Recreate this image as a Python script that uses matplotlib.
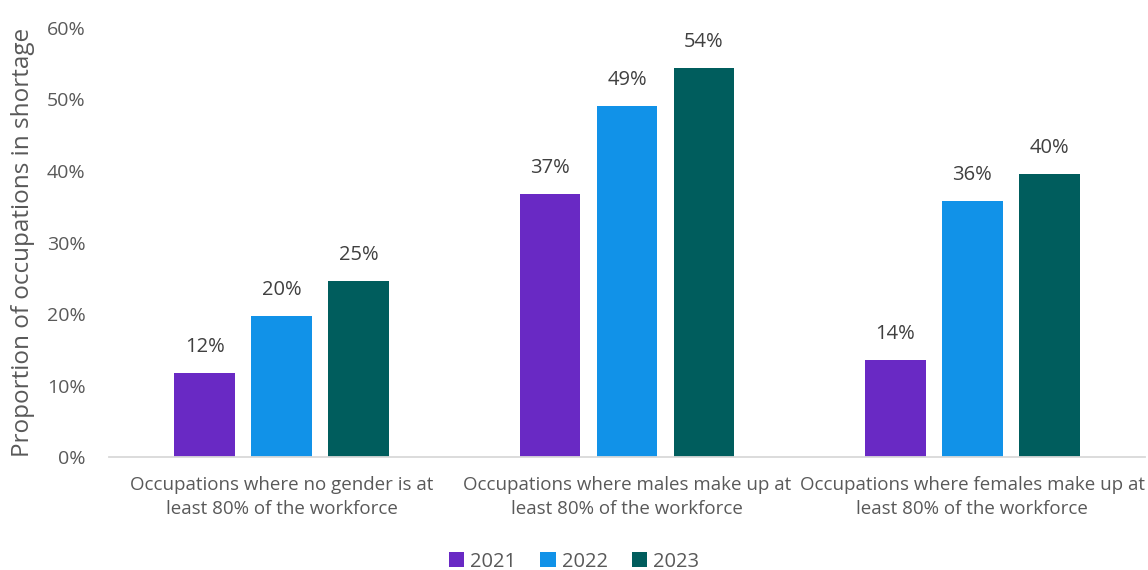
import matplotlib
matplotlib.use("Agg")
import matplotlib.pyplot as plt
import numpy as np

categories = [
    "Occupations where no gender is at\nleast 80% of the workforce",
    "Occupations where males make up at\nleast 80% of the workforce",
    "Occupations where females make up at\nleast 80% of the workforce",
]
years = ["2021", "2022", "2023"]
values_2021 = [0.118, 0.368, 0.136]
values_2022 = [0.197, 0.491, 0.358]
values_2023 = [0.246, 0.544, 0.396]
series = [values_2021, values_2022, values_2023]
colors = ["#6929C4", "#1192E8", "#005D5D"]
yticks = [0, 0.1, 0.2, 0.3, 0.4, 0.5, 0.6]

plt.rcParams['font.family'] = ['Open Sans', 'DejaVu Sans']
text_color = "#595959"

fig = plt.figure(figsize=(11.48, 5.70), dpi=100)
ax = fig.add_axes([0.0949, 0.1982, 0.9025, 0.7527])

x = np.arange(len(categories))
width = 0.175
pitch = 0.223
for i, (vals, yr, c) in enumerate(zip(series, years, colors)):
    pos = x + (i - 1) * pitch
    ax.bar(pos, vals, width=width, color=c, label=yr)
    for p, v in zip(pos, vals):
        ax.annotate(f"{round(v*100):.0f}%", (p, v), xytext=(0, 18.5), textcoords="offset points",
                    ha="center", va="center", fontsize=14.5, color="#404040")

ax.set_xlim(-0.5, 2.5)
ax.set_ylim(0, 0.6)
ax.set_yticks(yticks)
ax.set_yticklabels([f"{int(round(t*100))}%" for t in yticks], fontsize=14, color=text_color)
ax.set_xticks(x)
ax.set_xticklabels(categories, fontsize=13.5, color=text_color, linespacing=1.4)
ax.tick_params(axis="both", length=0)
ax.tick_params(axis="y", pad=17)
ax.tick_params(axis="x", pad=14)
for s in ["top", "right", "left"]:
    ax.spines[s].set_visible(False)
ax.spines["bottom"].set_color("#D9D9D9")
ax.spines["bottom"].set_linewidth(1.3)
ax.set_ylabel("Proportion of occupations in shortage", fontsize=17.5, color=text_color, labelpad=8)

leg = fig.legend(loc="lower center", bbox_to_anchor=(0.5, -0.035), ncol=3, frameon=False,
                 fontsize=14.5, handlelength=0.75, handleheight=0.75, handletextpad=0.3, columnspacing=1.2)
for t in leg.get_texts():
    t.set_color(text_color)

fig.savefig("out.png", dpi=100)
